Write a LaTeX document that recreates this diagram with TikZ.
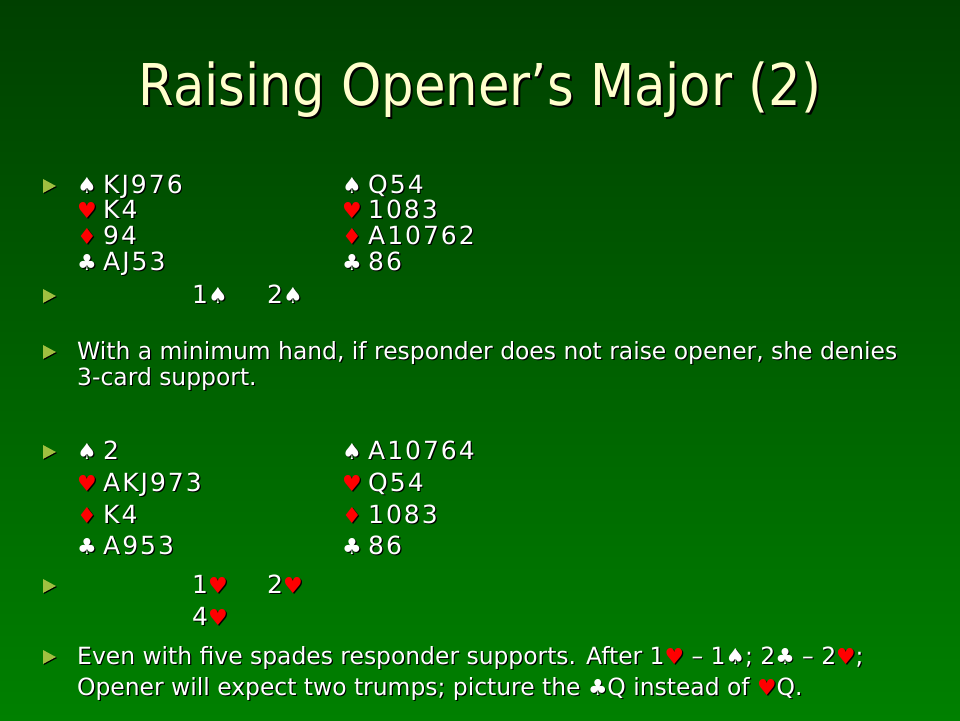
\documentclass[tikz,border=0pt]{standalone}
\usepackage{fontspec}
\setmainfont[FakeStretch=0.988]{DejaVu Sans}
\newfontfamily\titlefont[FakeStretch=0.89]{DejaVu Sans}
\newfontfamily\handfont[LetterSpace=8]{DejaVu Sans}

\definecolor{bgtop}{RGB}{0,64,0}
\definecolor{bgbot}{RGB}{0,128,0}
\definecolor{titlecol}{RGB}{255,255,204}
\definecolor{bulletcol}{RGB}{160,192,64}
\definecolor{suitred}{RGB}{255,0,0}
\definecolor{shadowcol}{RGB}{0,0,0}

% suits
\newcommand\redsuit{suitred}
\newcommand\suitsz{\fontsize{22}{22}\selectfont}
\newcommand\sS{{\suitsz\char"2660}}
\newcommand\sH{{\suitsz\textcolor{\redsuit}{\char"2665}}}
\newcommand\sD{{\suitsz\textcolor{\redsuit}{\char"2666}}}
\newcommand\sC{{\suitsz\char"2663}}
\newcommand\suitcol[1]{\makebox[26pt][l]{#1}} %suit column of a hand

\tikzset{
  txt/.style={anchor=base west, inner sep=0pt, text=white, font=\fontsize{23.7}{26}\selectfont},
  hand/.style={txt, font=\handfont\fontsize{25}{26}\selectfont},
  title/.style={anchor=base, inner sep=0pt, text=titlecol, font=\titlefont\fontsize{57.6}{60}\selectfont},
}

% text with its dark shadow
\newcommand\slidetext[4][txt]{%
  \node[#1, text=shadowcol, xshift=1.2pt, yshift=-1.2pt] at (#3) {\def\redsuit{shadowcol}#4};
  \node[#1] (#2) at (#3) {#4};}
% bullet triangle, #1 = baseline
\newcommand\slidebullet[1]{%
  \fill[shadowcol] (44,#1-13) -- (57,#1-6) -- (44,#1+1) -- cycle;
  \fill[bulletcol] (43,#1-14) -- (56,#1-7) -- (43,#1) -- cycle;}

\begin{document}
\begin{tikzpicture}[x=1pt,y=-1pt] %slide, y downwards
  \useasboundingbox (0,0) rectangle (960,720);
  \shade[top color=bgtop, bottom color=bgbot] (0,0) rectangle (960,720); %background
    %Title
  \node[title, text=shadowcol, xshift=2pt, yshift=-2pt] at (480,105) {Raising Opener’s Major (2)};
  \node[title] (title) at (480,105) {Raising Opener’s Major (2)};
    %Bullets
  \slidebullet{193}
  \slidebullet{303}
  \slidebullet{359}
  \slidebullet{459}
  \slidebullet{593}
  \slidebullet{664}
    %First deal
  \slidetext[hand]{wS}{77,193}{\suitcol{\sS}KJ976}
  \slidetext[hand]{wH}{77,218.5}{\suitcol{\sH}K4}
  \slidetext[hand]{wD}{77,244}{\suitcol{\sD}94}
  \slidetext[hand]{wC}{77,270}{\suitcol{\sC}AJ53}
  \slidetext[hand]{eS}{342,193}{\suitcol{\sS}Q54}
  \slidetext[hand]{eH}{342,218.5}{\suitcol{\sH}1083}
  \slidetext[hand]{eD}{342,244}{\suitcol{\sD}A10762}
  \slidetext[hand]{eC}{342,270}{\suitcol{\sC}86}
  \slidetext[hand]{bidA}{192,303}{1\sS}
  \slidetext[hand]{bidB}{267,303}{2\sS}
    %Comment
  \slidetext{noteA}{77,359}{With a minimum hand, if responder does not raise opener, she denies}
  \slidetext{noteB}{77,385}{3-card support.}
    %Second deal
  \slidetext[hand]{wwS}{77,459}{\suitcol{\sS}2}
  \slidetext[hand]{wwH}{77,491}{\suitcol{\sH}AKJ973}
  \slidetext[hand]{wwD}{77,523}{\suitcol{\sD}K4}
  \slidetext[hand]{wwC}{77,554.5}{\suitcol{\sC}A953}
  \slidetext[hand]{eeS}{342,459}{\suitcol{\sS}A10764}
  \slidetext[hand]{eeH}{342,491}{\suitcol{\sH}Q54}
  \slidetext[hand]{eeD}{342,523}{\suitcol{\sD}1083}
  \slidetext[hand]{eeC}{342,554.5}{\suitcol{\sC}86}
  \slidetext[hand]{bidC}{192,593}{1\sH}
  \slidetext[hand]{bidD}{267,593}{2\sH}
  \slidetext[hand]{bidE}{192,625}{4\sH}
    %Comment
  \slidetext{noteC}{77,664}{Even with five spades responder supports. After 1\sH{} – 1\sS; 2\sC{} – 2\sH;}
  \slidetext{noteD}{77,695}{Opener will expect two trumps; picture the \sC Q instead of \sH Q.}
\end{tikzpicture}
\end{document}
